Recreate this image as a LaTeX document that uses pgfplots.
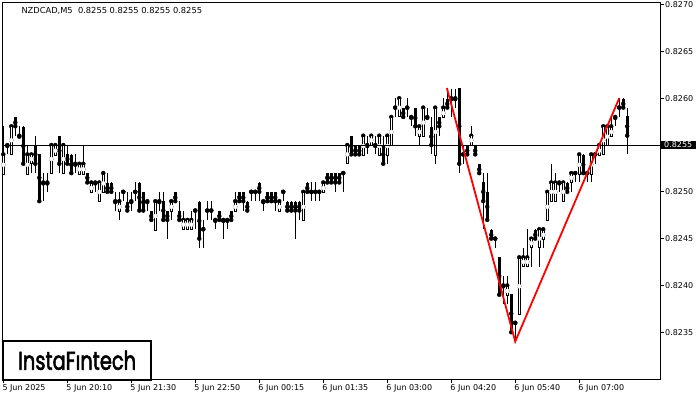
\documentclass[border=0pt]{standalone}
\usepackage{pgfplots}
\pgfplotsset{compat=1.18}
\usepackage{pgfplotstable}
\usepackage{fontspec}
\setmainfont{DejaVu Sans}
\newfontfamily\logofont[FakeBold=2.5]{Poppins}

% NZDCAD M5 bars: index, open, high, low, close
\pgfplotstableread{
i o h l c
0 0.8252 0.8257 0.8252 0.8254
1 0.8255 0.8255 0.8254 0.8255
2 0.8254 0.8257 0.8254 0.8257
3 0.8258 0.8258 0.8256 0.8257
4 0.8256 0.8257 0.8256 0.8256
5 0.8257 0.8257 0.8253 0.8253
6 0.8252 0.8255 0.8252 0.8254
7 0.8253 0.8254 0.8252 0.8254
8 0.8255 0.8256 0.8252 0.8253
9 0.8254 0.8254 0.8249 0.8249
10 0.8251 0.8252 0.8249 0.8251
11 0.8251 0.8252 0.8250 0.8251
12 0.8252 0.8255 0.8252 0.8255
13 0.8254 0.8255 0.8254 0.8255
14 0.8256 0.8256 0.8252 0.8253
15 0.8252 0.8255 0.8252 0.8255
16 0.8254 0.8255 0.8253 0.8253
17 0.8254 0.8254 0.8252 0.8252
18 0.8253 0.8254 0.8252 0.8253
19 0.8252 0.8253 0.8252 0.8253
20 0.8252 0.8255 0.8252 0.8253
21 0.8252 0.8252 0.8251 0.8251
22 0.8250 0.8251 0.8250 0.8251
23 0.8251 0.8251 0.8250 0.8251
24 0.8249 0.8251 0.8249 0.8251
25 0.8250 0.8252 0.8250 0.8252
26 0.8251 0.8252 0.8250 0.8250
27 0.8251 0.8251 0.8250 0.8250
28 0.8249 0.8250 0.8248 0.8249
29 0.8248 0.8250 0.8247 0.8249
30 0.8250 0.8250 0.8249 0.8250
31 0.8249 0.8250 0.8248 0.8248
32 0.8249 0.8250 0.8248 0.8249
33 0.8250 0.8251 0.8249 0.8250
34 0.8251 0.8251 0.8248 0.8248
35 0.8250 0.8250 0.8248 0.8248
36 0.8249 0.8249 0.8248 0.8249
37 0.8248 0.8248 0.8247 0.8247
38 0.8246 0.8249 0.8246 0.8249
39 0.8249 0.8250 0.8248 0.8249
40 0.8249 0.8250 0.8247 0.8247
41 0.8248 0.8248 0.8245 0.8247
42 0.8248 0.8249 0.8247 0.8249
43 0.8250 0.8250 0.8249 0.8249
44 0.8248 0.8249 0.8247 0.8247
45 0.8246 0.8248 0.8246 0.8247
46 0.8246 0.8247 0.8246 0.8247
47 0.8246 0.8248 0.8246 0.8247
48 0.8248 0.8248 0.8246 0.8248
49 0.8249 0.8249 0.8244 0.8245
50 0.8246 0.8247 0.8244 0.8246
51 0.8248 0.8249 0.8247 0.8248
52 0.8248 0.8249 0.8247 0.8248
53 0.8247 0.8247 0.8246 0.8247
54 0.8248 0.8248 0.8247 0.8247
55 0.8247 0.8247 0.8245 0.8247
56 0.8247 0.8247 0.8246 0.8247
57 0.8248 0.8248 0.8247 0.8247
58 0.8248 0.8250 0.8248 0.8249
59 0.8250 0.8250 0.8249 0.8249
60 0.8250 0.8250 0.8248 0.8249
61 0.8249 0.8249 0.8248 0.8248
62 0.8250 0.8250 0.8249 0.8250
63 0.8250 0.8250 0.8249 0.8250
64 0.8251 0.8251 0.8249 0.8250
65 0.8249 0.8249 0.8248 0.8249
66 0.8250 0.8250 0.8249 0.8249
67 0.8250 0.8250 0.8249 0.8249
68 0.8250 0.8250 0.8248 0.8249
69 0.8248 0.8249 0.8248 0.8249
70 0.8250 0.8250 0.8249 0.8250
71 0.8249 0.8249 0.8248 0.8248
72 0.8249 0.8249 0.8248 0.8248
73 0.8249 0.8249 0.8245 0.8248
74 0.8249 0.8249 0.8247 0.8248
75 0.8247 0.8250 0.8247 0.8250
76 0.8251 0.8251 0.8250 0.8250
77 0.8250 0.8251 0.8249 0.8250
78 0.8250 0.8251 0.8249 0.8250
79 0.8250 0.8250 0.8249 0.8250
80 0.8250 0.8251 0.8250 0.8251
81 0.8252 0.8252 0.8251 0.8251
82 0.8252 0.8252 0.8251 0.8251
83 0.8252 0.8252 0.8250 0.8251
84 0.8252 0.8252 0.8251 0.8251
85 0.8252 0.8252 0.8250 0.8252
86 0.8253 0.8255 0.8253 0.8255
87 0.8256 0.8256 0.8254 0.8254
88 0.8255 0.8255 0.8254 0.8254
89 0.8255 0.8255 0.8254 0.8254
90 0.8254 0.8256 0.8254 0.8256
91 0.8255 0.8256 0.8254 0.8255
92 0.8255 0.8256 0.8255 0.8256
93 0.8255 0.8256 0.8254 0.8255
94 0.8254 0.8256 0.8254 0.8256
95 0.8255 0.8256 0.8253 0.8253
96 0.8254 0.8256 0.8253 0.8256
97 0.8255 0.8258 0.8255 0.8258
98 0.8259 0.8260 0.8258 0.8259
99 0.8258 0.8260 0.8258 0.8260
100 0.8259 0.8259 0.8258 0.8258
101 0.8259 0.8260 0.8258 0.8259
102 0.8258 0.8258 0.8257 0.8258
103 0.8259 0.8259 0.8256 0.8257
104 0.8256 0.8257 0.8255 0.8257
105 0.8256 0.8259 0.8256 0.8259
106 0.8258 0.8259 0.8258 0.8258
107 0.8257 0.8258 0.8254 0.8255
108 0.8254 0.8259 0.8253 0.8259
109 0.8258 0.8258 0.8256 0.8257
110 0.8258 0.8260 0.8258 0.8259
111 0.8260 0.8261 0.8259 0.8259
112 0.8260 0.8261 0.8258 0.8260
113 0.8260 0.8261 0.8259 0.8260
114 0.8261 0.8261 0.8252 0.8253
115 0.8254 0.8255 0.8253 0.8254
116 0.8255 0.8255 0.8254 0.8254
117 0.8255 0.8257 0.8255 0.8256
118 0.8255 0.8255 0.8254 0.8254
119 0.8253 0.8253 0.8252 0.8252
120 0.8251 0.8252 0.8246 0.8249
121 0.8250 0.8252 0.8247 0.8247
122 0.8246 0.8246 0.8245 0.8245
123 0.8245 0.8245 0.8244 0.8245
124 0.8243 0.8243 0.8239 0.8239
125 0.8240 0.8241 0.8238 0.8240
126 0.8239 0.8241 0.8238 0.8240
127 0.8239 0.8239 0.8235 0.8235
128 0.8236 0.8236 0.8234 0.8236
129 0.8237 0.8243 0.8237 0.8243
130 0.8242 0.8244 0.8242 0.8243
131 0.8242 0.8246 0.8242 0.8243
132 0.8244 0.8245 0.8242 0.8245
133 0.8246 0.8246 0.8245 0.8245
134 0.8244 0.8246 0.8242 0.8246
135 0.8245 0.8246 0.8244 0.8246
136 0.8247 0.8250 0.8247 0.8250
137 0.8249 0.8253 0.8249 0.8251
138 0.8249 0.8252 0.8249 0.8251
139 0.8251 0.8251 0.8250 0.8251
140 0.8249 0.8251 0.8249 0.8251
141 0.8251 0.8251 0.8250 0.8250
142 0.8251 0.8252 0.8250 0.8252
143 0.8252 0.8252 0.8251 0.8252
144 0.8252 0.8254 0.8251 0.8254
145 0.8254 0.8254 0.8252 0.8252
146 0.8252 0.8252 0.8251 0.8252
147 0.8252 0.8254 0.8251 0.8254
148 0.8254 0.8254 0.8253 0.8254
149 0.8254 0.8255 0.8254 0.8255
150 0.8254 0.8257 0.8254 0.8257
151 0.8255 0.8257 0.8255 0.8257
152 0.8256 0.8258 0.8256 0.8257
153 0.8258 0.8258 0.8257 0.8258
154 0.8259 0.8260 0.8258 0.8259
155 0.8260 0.8260 0.8259 0.8259
156 0.8258 0.8259 0.8254 0.8256
}\bars

\begin{document}
\begin{tikzpicture}[x=1pt,y=1pt]
\useasboundingbox (0,0) rectangle (700,400);
\begin{axis}[
    at={(2.5pt,21pt)}, anchor=south west,
    scale only axis, width=657.5pt, height=376.5pt,
    xmin=-0.2, xmax=164.2,
    ymin=0.8230, ymax=0.827023,
    clip mode=individual,
    axis line style={line width=1pt},
    tick align=outside, major tick length=4pt,
    tick style={black, line width=1pt},
    xtick={0,16,...,144},
    xticklabels={5 Jun 2025,5 Jun 20:10,5 Jun 21:30,5 Jun 22:50,6 Jun 00:15,6 Jun 01:35,6 Jun 03:00,6 Jun 04:20,6 Jun 05:40,6 Jun 07:00},
    xtick pos=bottom,
    ytick={0.8235,0.8240,0.8245,0.8250,0.8255,0.8260,0.8265,0.8270},
    yticklabels={0.8235,0.8240,0.8245,0.8250,0.8255,0.8260,0.8265,0.8270},
    ytick pos=right, yticklabel pos=right,
    tick label style={font=\fontsize{8}{9}\selectfont, inner sep=0pt},
    xticklabel style={anchor=north west, xshift=-1pt, yshift=-1pt},
    yticklabel style={anchor=west, xshift=1pt},
]
% wicks
\addplot[black, only marks, mark=none,
    error bars/.cd, y dir=both, y explicit, error mark=none,
    error bar style={line width=1pt, line cap=butt, black}]
    table[x=i, y=c, y error plus expr=\thisrow{h}-\thisrow{c},
          y error minus expr=\thisrow{c}-\thisrow{l}] {\bars};
% bodies
\addplot[black, only marks, mark=none,
    error bars/.cd, y dir=both, y explicit, error mark=none,
    error bar style={line width=3pt, line cap=butt, black}]
    table[x=i, y expr=(\thisrow{o}+\thisrow{c})/2,
          y error expr=abs(\thisrow{o}-\thisrow{c})/2+0.0000053] {\bars};
% hollow inside of rising bars
\addplot[white, only marks, mark=none,
    error bars/.cd, y dir=both, y explicit, error mark=none,
    error bar style={line width=1pt, line cap=butt, white}]
    table[x=i, y expr={\thisrow{c}>\thisrow{o} ? (\thisrow{o}+\thisrow{c})/2 : nan},
          y error expr=abs(\thisrow{o}-\thisrow{c})/2-0.0000053] {\bars};
% bid line
\addplot[black, line width=1pt] coordinates {(-0.2,0.8255) (164.2,0.8255)};
% pattern
\addplot[red, line width=1.8pt] coordinates {(110.9,0.82611) (128,0.8234) (154,0.8260)};
\node[fill=black, text=white, font=\fontsize{8}{9}\selectfont, inner xsep=4pt, inner ysep=1.4pt, anchor=west]
    at (axis cs:164.2,0.8255) {0.8255};
\end{axis}
\node[anchor=west, font=\fontsize{8.3}{10}\selectfont] at (18,389) {NZDCAD,M5\ \ 0.8255 0.8255 0.8255 0.8255};
\node[draw=black, fill=white, line width=2pt, minimum width=147.7pt, minimum height=38.7pt, anchor=north west, inner sep=0pt]
    at (2.3,60) {\resizebox{118pt}{19pt}{\logofont InstaFıntech}};
\end{tikzpicture}
\end{document}
